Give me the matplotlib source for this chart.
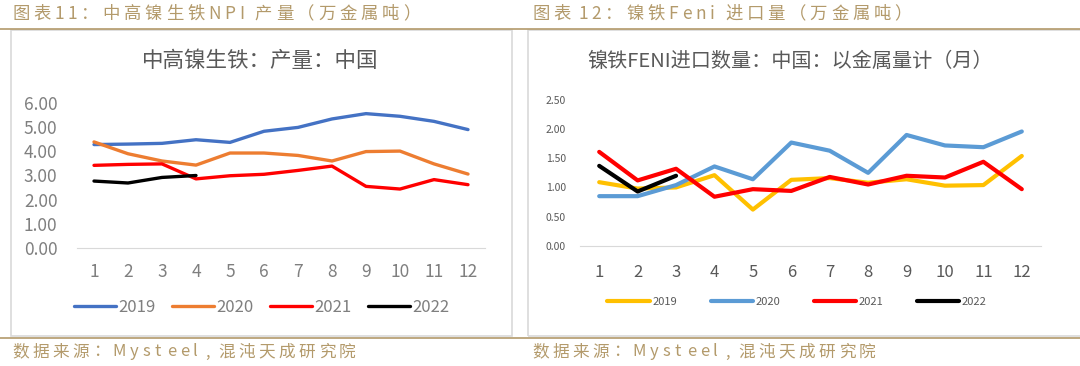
import matplotlib
matplotlib.use("Agg")
import matplotlib.pyplot as plt
from matplotlib.patches import Rectangle
from matplotlib.lines import Line2D
from matplotlib.textpath import TextToPath
from matplotlib.font_manager import FontProperties

plt.rcParams['font.family'] = ['Noto Sans CJK SC', 'DejaVu Sans']

months = list(range(1, 13))
years = ['2019', '2020', '2021', '2022']

# 中高镍生铁 NPI 产量 (万金属吨)
npi_2019 = [4.28, 4.30, 4.33, 4.48, 4.37, 4.83, 4.99, 5.34, 5.56, 5.45, 5.24, 4.90]
npi_2020 = [4.39, 3.90, 3.60, 3.43, 3.93, 3.93, 3.83, 3.60, 3.99, 4.01, 3.48, 3.06]
npi_2021 = [3.42, 3.46, 3.48, 2.86, 2.99, 3.05, 3.21, 3.39, 2.55, 2.44, 2.83, 2.62]
npi_2022 = [2.77, 2.69, 2.92, 3.00]

# 镍铁 Feni 进口量 (万金属吨)
feni_2019 = [1.09, 0.98, 1.00, 1.21, 0.62, 1.13, 1.16, 1.08, 1.14, 1.03, 1.04, 1.54]
feni_2020 = [0.85, 0.85, 1.04, 1.36, 1.14, 1.77, 1.63, 1.25, 1.90, 1.72, 1.69, 1.96]
feni_2021 = [1.61, 1.12, 1.32, 0.84, 0.97, 0.94, 1.18, 1.05, 1.20, 1.17, 1.44, 0.97]
feni_2022 = [1.37, 0.93, 1.20]

left_colors = ['#4472c4', '#ed7d31', '#ff0000', '#000000']
right_colors = ['#ffc000', '#5b9bd5', '#ff0000', '#000000']
gold = '#b39a6b'
grey_txt = '#595959'

W, H = 1080, 366
fig = plt.figure(figsize=(W / 100, H / 100), dpi=100)


def fx(px):
    return px / W


def fy(py):
    return 1 - py / H


t2p = TextToPath()


def spaced_text(x_px, y_px, s, size, spacing_px, latin_min=0):
    # draw text char by char with extra letter spacing (px)
    fp = FontProperties(family='Noto Sans CJK SC', size=size)
    x = x_px
    for ch in s:
        if ch == ' ':
            x += size * 0.3
            continue
        w, h, d = t2p.get_text_width_height_descent(ch, fp, ismath=False)
        w = w * 100 / 72
        fig.text(fx(x), fy(y_px), ch, color=gold, fontsize=size,
                 ha='left', va='center', family='Noto Sans CJK SC')
        x += max(w, latin_min) + spacing_px


# header / footer decoration
fig.add_artist(Line2D([0, 1], [fy(28.5), fy(28.5)], color=gold, lw=1.2))
fig.add_artist(Line2D([0, 1], [fy(337.5), fy(337.5)], color=gold, lw=1.2))
fig.add_artist(Rectangle((fx(11), fy(336)), fx(501), fy(30) - fy(336),
                         fill=False, edgecolor='#d9d9d9', lw=1.2))
fig.add_artist(Rectangle((fx(528), fy(336)), fx(560), fy(30) - fy(336),
                         fill=False, edgecolor='#d9d9d9', lw=1.2))
spaced_text(12, 14, '图表11：中高镍生铁NPI 产量（万金属吨）', 12.5, 3.8, latin_min=8)
spaced_text(532, 14, '图表 12：镍铁Feni 进口量（万金属吨）', 12.5, 3.8, latin_min=8)
spaced_text(12, 352, '数据来源：Mysteel,混沌天成研究院', 12, 3.5, latin_min=9)
spaced_text(532, 352, '数据来源：Mysteel,混沌天成研究院', 12, 3.5, latin_min=9)

# left chart
ax1 = fig.add_axes([fx(77), fy(248), fx(408), fy(103) - fy(248)])
for vals, c, lab in zip([npi_2019, npi_2020, npi_2021, npi_2022], left_colors, years):
    ax1.plot(months[:len(vals)], vals, color=c, lw=2.4, label=lab,
             solid_capstyle='round')
ax1.set_xlim(0.5, 12.5)
ax1.set_ylim(0, 6)
ax1.set_yticks([0, 1, 2, 3, 4, 5, 6])
ax1.set_yticklabels([f'{v:.2f}' for v in range(7)])
ax1.set_xticks(months)
ax1.tick_params(axis='both', length=0, labelsize=12.5, labelcolor='#7f7f7f')
ax1.tick_params(axis='x', pad=11)
ax1.tick_params(axis='y', pad=14)
for s in ['top', 'right', 'left']:
    ax1.spines[s].set_visible(False)
ax1.spines['bottom'].set_color('#d9d9d9')
ax1.patch.set_alpha(0)
fig.text(fx(260), fy(61), '中高镍生铁：产量：中国', color=grey_txt, fontsize=15.5,
         ha='center', va='center')
ax1.legend(loc='center', bbox_to_anchor=(fx(262), fy(307)),
           bbox_transform=fig.transFigure, ncol=4, frameon=False,
           fontsize=12, handlelength=2.5, handletextpad=0.15,
           columnspacing=1.0, labelcolor='#7f7f7f')

# right chart
ax2 = fig.add_axes([fx(580), fy(245.7), fx(461), fy(100) - fy(245.7)])
for vals, c, lab in zip([feni_2019, feni_2020, feni_2021, feni_2022], right_colors, years):
    ax2.plot(months[:len(vals)], vals, color=c, lw=3, label=lab,
             solid_capstyle='round')
ax2.set_xlim(0.5, 12.5)
ax2.set_ylim(0, 2.5)
ax2.set_yticks([0, 0.5, 1.0, 1.5, 2.0, 2.5])
ax2.set_yticklabels(['0.00', '0.50', '1.00', '1.50', '2.00', '2.50'])
ax2.set_xticks(months)
ax2.tick_params(axis='y', length=0, labelsize=7.5, labelcolor=grey_txt, pad=10)
ax2.tick_params(axis='x', length=0, labelsize=12, labelcolor=grey_txt, pad=13)
for s in ['top', 'right', 'left']:
    ax2.spines[s].set_visible(False)
ax2.spines['bottom'].set_color('#d9d9d9')
ax2.patch.set_alpha(0)
fig.text(fx(790), fy(61), '镍铁FENI进口数量：中国：以金属量计（月）', color=grey_txt,
         fontsize=14.5, ha='center', va='center')
ax2.legend(loc='center', bbox_to_anchor=(fx(797), fy(302)),
           bbox_transform=fig.transFigure, ncol=4, frameon=False,
           fontsize=8, handlelength=3.8, handletextpad=0.25,
           columnspacing=3.0, labelcolor=grey_txt)

fig.savefig('out.png', dpi=100)
